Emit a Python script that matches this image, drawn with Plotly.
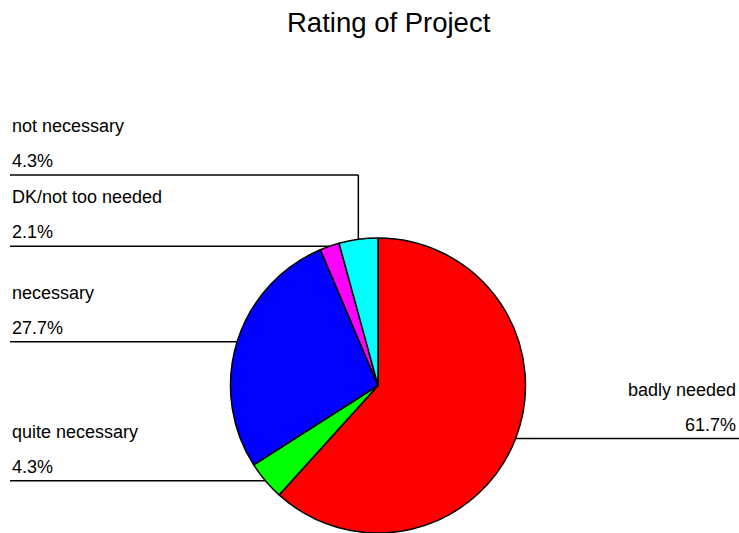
import math
import plotly.graph_objects as go

# ответы респондентов (N = 47)
labels = ["badly needed", "quite necessary", "necessary", "DK/not too needed", "not necessary"]
counts = [29, 2, 13, 1, 2]
colors = ["#ff0000", "#00ff00", "#0000ff", "#ff00ff", "#00ffff"]

W, H = 739, 533
cx, cy, r = 378, 385.5, 147.5
font = "Liberation Sans, Arial, sans-serif"

total = sum(counts)
pcts = [c / total * 100 for c in counts]

fig = go.Figure(go.Pie(
    labels=labels,
    values=counts,
    sort=False,
    direction="clockwise",
    rotation=0,
    marker=dict(colors=colors, line=dict(color="black", width=1.5)),
    textinfo="none",
    hoverinfo="label+percent",
    showlegend=False,
    domain=dict(x=[(cx - r) / W, (cx + r) / W], y=[0, 2 * r / H]),
))


def px(x, y):
    return x / W, 1 - y / H


shapes = []
annotations = []
# линия для "not necessary" поднята вверх, чтобы не налезать на соседнюю подпись
raised = {"not necessary": 175}

cum = 0
for lab, p in zip(labels, pcts):
    mid = math.radians((cum + p / 2) / 100 * 360)
    cum += p
    ex = cx + r * math.sin(mid)
    ey = cy - r * math.cos(mid)
    left = math.sin(mid) < 0
    line_y = raised.get(lab, ey)

    if lab in raised:
        x0, y0 = px(ex, ey)
        x1, y1 = px(ex, line_y)
        shapes.append(dict(type="line", xref="paper", yref="paper",
                           x0=x0, y0=y0, x1=x1, y1=y1,
                           line=dict(color="black", width=1.5)))
    if left:
        xa, xb = 10, ex
    else:
        xa, xb = ex, W
    x0, y0 = px(xa, line_y)
    x1, y1 = px(xb, line_y)
    shapes.append(dict(type="line", xref="paper", yref="paper",
                       x0=x0, y0=y0, x1=x1, y1=y1,
                       line=dict(color="black", width=1.5)))

    tx = 10 if left else W - 1
    anchor = "left" if left else "right"
    for txt, dy in [(lab, -49), ("%.1f%%" % p, -14)]:
        ax, ay = px(tx, line_y + dy)
        annotations.append(dict(text=txt, x=ax, y=ay, xref="paper", yref="paper",
                                xanchor=anchor, yanchor="middle", showarrow=False,
                                font=dict(size=18, color="black", family=font)))

tx, ty = px(389, 23)
annotations.append(dict(text="Rating of Project", x=tx, y=ty, xref="paper", yref="paper",
                        xanchor="center", yanchor="middle", showarrow=False,
                        font=dict(size=27.5, color="black", family=font)))

fig.update_layout(
    width=W, height=H,
    margin=dict(l=0, r=0, t=0, b=0),
    paper_bgcolor="white",
    plot_bgcolor="white",
    shapes=shapes,
    annotations=annotations,
)

fig.write_html("out.html", config={"displayModeBar": False},
               post_script="document.body.style.margin='0';")
